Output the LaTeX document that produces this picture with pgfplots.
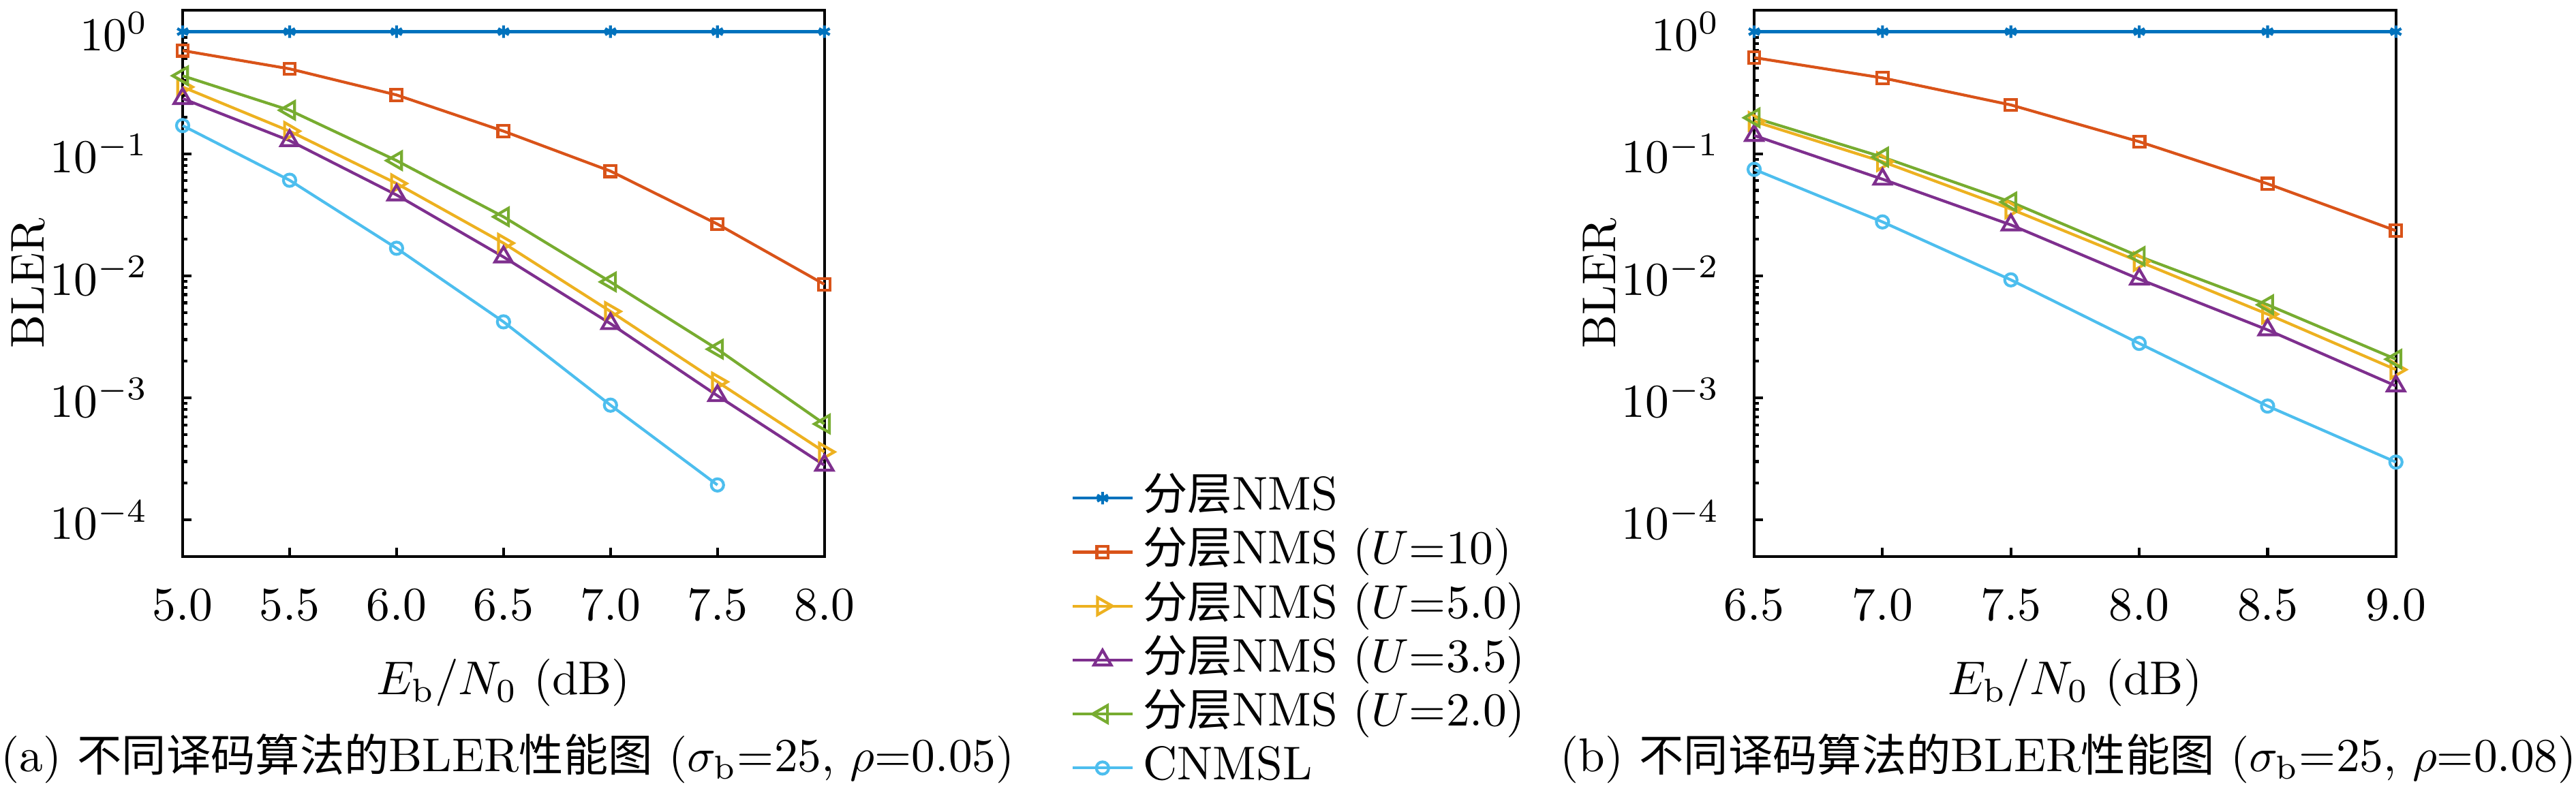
\documentclass[border=0pt]{standalone}
\usepackage{fontspec}
\newfontfamily\cjk[Scale=0.94]{Noto Sans CJK SC}
\usepackage{pgfplots}
\pgfplotsset{compat=1.18}

\definecolor{mblue}{RGB}{0,114,189}
\definecolor{morange}{RGB}{217,83,25}
\definecolor{myellow}{RGB}{237,177,32}
\definecolor{mpurple}{RGB}{126,47,142}
\definecolor{mgreen}{RGB}{119,172,48}
\definecolor{mcyan}{RGB}{77,190,238}

\begin{document}
\begin{tikzpicture}
\useasboundingbox (0,0) rectangle (543.88pt,167.91pt);

% (a) sigma_b=25, rho=0.05
\begin{axis}[
  at={(38.56pt,50.36pt)}, anchor=south west,
  scale only axis, width=135.5pt, height=115.4pt, clip=false,
  ymode=log, ymin=5e-5, ymax=1.5,
  ytick={1e-4,1e-3,1e-2,1e-1,1},
  xmin=5, xmax=8, xtick={5,5.5,...,8},
  tick align=inside, tick pos=left,
  major tick length=1.8pt, minor tick length=1pt,
  axis line style={line width=0.6pt},
  every tick/.style={black, line width=0.6pt},
  xticklabel style={anchor=base, yshift=-13.4pt,
    /pgf/number format/fixed, /pgf/number format/fixed zerofill,
    /pgf/number format/precision=1},
  yticklabel style={xshift=-3.7pt},
  xlabel={$E_\mathrm{b}/N_0$ (dB)},
  xlabel style={at={(axis description cs:0.5,-0.2531)}, anchor=base},
  ylabel={BLER},
  ylabel style={at={(axis description cs:-0.2166,0.5)}, anchor=base},
  legend cell align=left,
  legend style={at={(1.3832,0.158)}, anchor=north west, draw=none, fill=none,
    inner sep=0pt,
    nodes={inner xsep=2pt, inner ysep=0.7pt, text height=7.5pt, text depth=2.5pt}},
  legend image code/.code={\draw[mark repeat=2,mark phase=2]
    plot coordinates {(0pt,0pt)(6.3pt,0pt)(12.6pt,0pt)};},
]
\addplot [mblue, line width=0.6pt, mark=asterisk, mark size=1.3pt, mark options={solid}] table {
5.0 1
5.5 1
6.0 1
6.5 1
7.0 1
7.5 1
8.0 1
};
\addlegendentry{{\cjk 分层}NMS}
\addplot [morange, line width=0.6pt, mark=square, mark size=1.2pt, mark options={solid}] table {
5.0 0.70
5.5 0.496
6.0 0.303
6.5 0.153
7.0 0.072
7.5 0.0265
8.0 0.0085
};
\addlegendentry{{\cjk 分层}NMS ($U$=10)}
\addplot [myellow, line width=0.6pt, mark=triangle, mark size=2.1pt, mark options={solid, rotate=-90}] table {
5.0 0.352
5.5 0.153
6.0 0.057
6.5 0.0185
7.0 0.0051
7.5 0.00135
8.0 0.00036
};
\addlegendentry{{\cjk 分层}NMS ($U$=5.0)}
\addplot [mpurple, line width=0.6pt, mark=triangle, mark size=2.1pt, mark options={solid}] table {
5.0 0.283
5.5 0.128
6.0 0.0459
6.5 0.01425
7.0 0.00405
7.5 0.00104
8.0 0.00028
};
\addlegendentry{{\cjk 分层}NMS ($U$=3.5)}
\addplot [mgreen, line width=0.6pt, mark=triangle, mark size=2.1pt, mark options={solid, rotate=90}] table {
5.0 0.435
5.5 0.227
6.0 0.0878
6.5 0.0304
7.0 0.0089
7.5 0.0025
8.0 0.00061
};
\addlegendentry{{\cjk 分层}NMS ($U$=2.0)}
\addplot [mcyan, line width=0.6pt, mark=o, mark size=1.3pt, mark options={solid}] table {
5.0 0.17
5.5 0.0606
6.0 0.0168
6.5 0.00419
7.0 0.00087
7.5 0.000193
};
\addlegendentry{CNMSL}
\end{axis}

% (b) sigma_b=25, rho=0.08
\begin{axis}[
  at={(370.36pt,50.36pt)}, anchor=south west,
  scale only axis, width=135.5pt, height=115.4pt, clip=false,
  ymode=log, ymin=5e-5, ymax=1.5,
  ytick={1e-4,1e-3,1e-2,1e-1,1},
  xmin=6.5, xmax=9, xtick={6.5,7,...,9},
  tick align=inside, tick pos=left,
  major tick length=1.8pt, minor tick length=1pt,
  axis line style={line width=0.6pt},
  every tick/.style={black, line width=0.6pt},
  xticklabel style={anchor=base, yshift=-13.4pt,
    /pgf/number format/fixed, /pgf/number format/fixed zerofill,
    /pgf/number format/precision=1},
  yticklabel style={xshift=-3.7pt},
  xlabel={$E_\mathrm{b}/N_0$ (dB)},
  xlabel style={at={(axis description cs:0.5,-0.2531)}, anchor=base},
  ylabel={BLER},
  ylabel style={at={(axis description cs:-0.2166,0.5)}, anchor=base},
]
\addplot [mblue, line width=0.6pt, mark=asterisk, mark size=1.3pt, mark options={solid}] table {
6.5 1
7.0 1
7.5 1
8.0 1
8.5 1
9.0 1
};
\addplot [morange, line width=0.6pt, mark=square, mark size=1.2pt, mark options={solid}] table {
6.5 0.613
7.0 0.418
7.5 0.251
8.0 0.1255
8.5 0.0567
9.0 0.0234
};
\addplot [myellow, line width=0.6pt, mark=triangle, mark size=2.1pt, mark options={solid, rotate=-90}] table {
6.5 0.184
7.0 0.086
7.5 0.0352
8.0 0.01306
8.5 0.00484
9.0 0.0017
};
\addplot [mpurple, line width=0.6pt, mark=triangle, mark size=2.1pt, mark options={solid}] table {
6.5 0.141
7.0 0.0618
7.5 0.0261
8.0 0.00938
8.5 0.0036
9.0 0.00125
};
\addplot [mgreen, line width=0.6pt, mark=triangle, mark size=2.1pt, mark options={solid, rotate=90}] table {
6.5 0.197
7.0 0.0938
7.5 0.0402
8.0 0.0144
8.5 0.00578
9.0 0.00207
};
\addplot [mcyan, line width=0.6pt, mark=o, mark size=1.3pt, mark options={solid}] table {
6.5 0.0744
7.0 0.0276
7.5 0.00925
8.0 0.00279
8.5 0.000855
9.0 0.000297
};
\end{axis}

\node[anchor=base, inner sep=0pt] at (107.2pt,4.89pt)
  {(a) {\cjk 不同译码算法的}BLER{\cjk 性能图} ($\sigma_\mathrm{b}$=25, $\rho$=0.05)};
\node[anchor=base, inner sep=0pt] at (436.7pt,4.89pt)
  {(b) {\cjk 不同译码算法的}BLER{\cjk 性能图} ($\sigma_\mathrm{b}$=25, $\rho$=0.08)};
\end{tikzpicture}
\end{document}
